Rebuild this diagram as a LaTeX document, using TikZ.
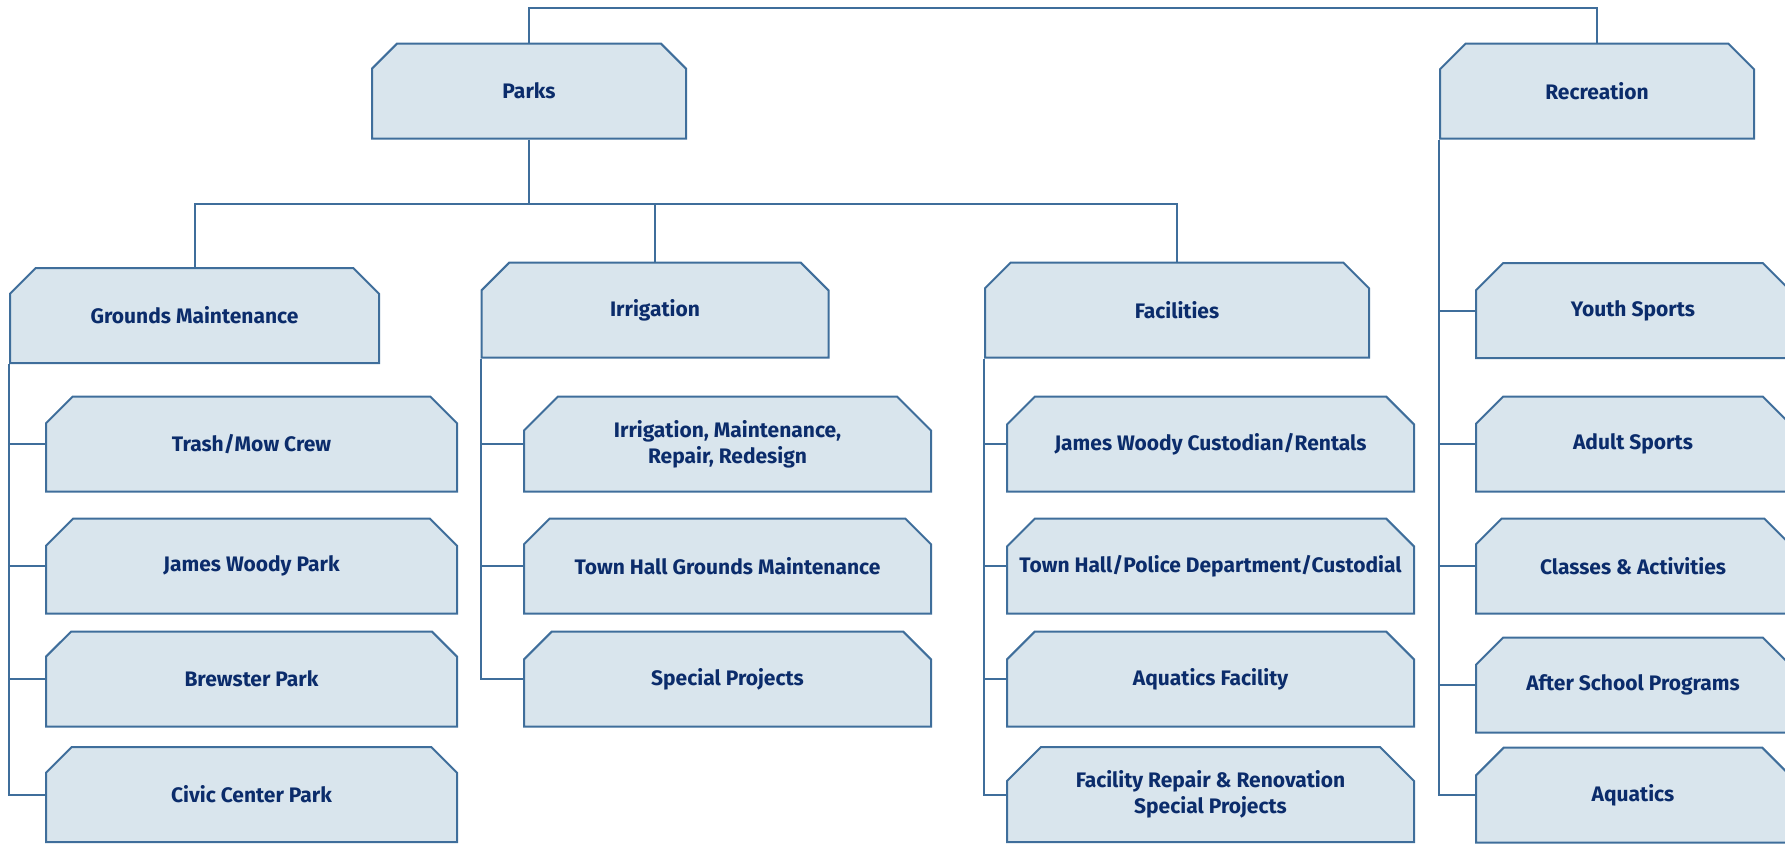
\documentclass[tikz,border=0pt]{standalone}
\usepackage{fontspec}
\setmainfont{Fira Sans}
\usetikzlibrary{shapes.misc}

\definecolor{boxline}{HTML}{3F6E9B}
\definecolor{boxfill}{HTML}{D9E5ED}
\definecolor{boxtext}{HTML}{0B2C6B}

\tikzset{
  unit/.style={chamfered rectangle, chamfered rectangle corners={north west,north east},
    chamfered rectangle xsep=8.5pt, chamfered rectangle ysep=8.5pt,
    draw=boxline, line width=1pt, fill=boxfill, text=boxtext, inner sep=0pt,
    font=\bfseries\fontsize{10.5}{13}\selectfont, align=center, minimum height=47.5pt},
  link/.style={draw=boxline, line width=1pt}
}

\begin{document}
\begin{tikzpicture}[x=0.5pt,y=-0.5pt]

  \useasboundingbox (0,0) rectangle (1785,843);

  % top level
  \node[unit, minimum width=157pt] (parks) at (529,91) {Parks};
  \node[unit, minimum width=157pt] (rec) at (1597,91) {Recreation};

  % parks divisions
  \node[unit, minimum width=184.5pt] (grounds) at (194.5,315.5) {Grounds Maintenance};
  \node[unit, minimum width=173.5pt] (irrig) at (655,310) {Irrigation};
  \node[unit, minimum width=192pt] (facil) at (1177,310) {Facilities};

  % grounds maintenance
  \node[unit, minimum width=205.5pt] (trash) at (251.5,444) {Trash/Mow Crew};
  \node[unit, minimum width=205.5pt] (woody) at (251.5,566) {James Woody Park};
  \node[unit, minimum width=205.5pt] (brewster) at (251.5,679) {Brewster Park};
  \node[unit, minimum width=205.5pt] (civic) at (251.5,794.5) {Civic Center Park};

  % irrigation
  \node[unit, minimum width=203.5pt] (irrmaint) at (727.5,444) {Irrigation, Maintenance,\\Repair, Redesign};
  \node[unit, minimum width=203.5pt] (thgrounds) at (727.5,566) {Town Hall Grounds Maintenance};
  \node[unit, minimum width=203.5pt] (special) at (727.5,679) {Special Projects};

  % facilities
  \node[unit, minimum width=203.5pt] (jwcust) at (1210.5,444) {James Woody Custodian/Rentals};
  \node[unit, minimum width=203.5pt] (thpd) at (1210.5,566) {Town Hall/Police Department/Custodial};
  \node[unit, minimum width=203.5pt] (aquafac) at (1210.5,679) {Aquatics Facility};
  \node[unit, minimum width=203.5pt] (facrepair) at (1210.5,794.5) {Facility Repair \& Renovation\\Special Projects};

  % recreation
  \node[unit, minimum width=157pt] (youth) at (1633,310.5) {Youth Sports};
  \node[unit, minimum width=157pt] (adult) at (1633,444) {Adult Sports};
  \node[unit, minimum width=157pt] (classes) at (1633,566) {Classes \& Activities};
  \node[unit, minimum width=157pt] (after) at (1633,685) {After School Programs};
  \node[unit, minimum width=157pt] (aquatics) at (1633,795) {Aquatics};

  % connectors
  \coordinate (topbar) at (0,8);
  \coordinate (midbar) at (0,204);

  \draw[link] (parks.north) -- (parks.north |- topbar) -| (rec.north);
  \draw[link] (parks.south) -- (parks.south |- midbar);
  \draw[link] (grounds.north) -- (grounds.north |- midbar) -| (facil.north);
  \draw[link] (irrig.north) -- (irrig.north |- midbar);

  \draw[link] (grounds.west |- grounds.south) |- (civic.west);
  \foreach \n in {trash,woody,brewster}
    \draw[link] (grounds.west |- \n.west) -- (\n.west);

  \draw[link] (irrig.west |- irrig.south) |- (special.west);
  \foreach \n in {irrmaint,thgrounds}
    \draw[link] (irrig.west |- \n.west) -- (\n.west);

  \draw[link] (facil.west |- facil.south) |- (facrepair.west);
  \foreach \n in {jwcust,thpd,aquafac}
    \draw[link] (facil.west |- \n.west) -- (\n.west);

  \draw[link] (rec.west |- rec.south) |- (aquatics.west);
  \foreach \n in {youth,adult,classes,after}
    \draw[link] (rec.west |- \n.west) -- (\n.west);

\end{tikzpicture}
\end{document}
